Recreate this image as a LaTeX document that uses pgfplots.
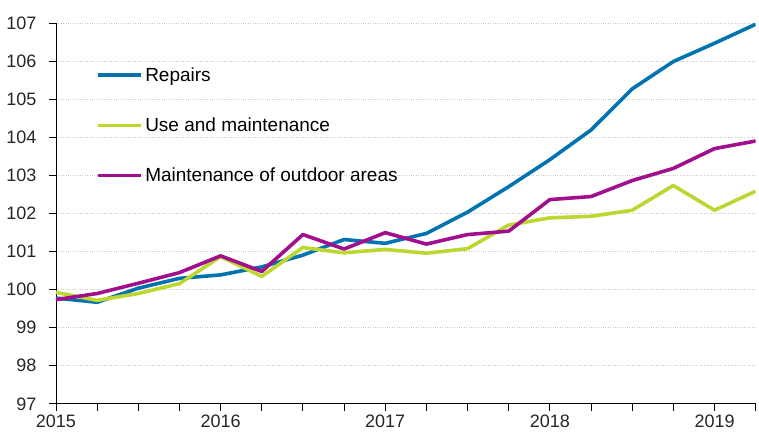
\documentclass[border=0pt]{standalone}
\usepackage{pgfplots}
\pgfplotsset{compat=1.18}
\usepackage{fontspec}
\setmainfont{Liberation Sans}
\definecolor{cblue}{RGB}{0,115,176}
\definecolor{cgreen}{RGB}{190,214,48}
\definecolor{cmag}{RGB}{160,16,140}
\definecolor{gridc}{RGB}{200,200,200}
\begin{document}
\begin{tikzpicture}
\begin{axis}[
  scale only axis,
  width=700pt, height=380.5pt,
  xmin=0, xmax=17, ymin=97, ymax=107,
  axis x line*=bottom, axis y line*=left,
  axis line style={black, line width=0.9pt},
  xtick={0,...,17},
  xticklabels={2015,,,,2016,,,,2017,,,,2018,,,,2019,},
  ytick={97,...,107},
  tick align=outside,
  major tick length=7pt,
  tick style={black, line width=0.9pt},
  ymajorgrids,
  grid style={gridc, dotted, line width=0.8pt},
  tick label style={font=\fontsize{18}{20}\selectfont, text=black!85},
  /pgf/number format/assume math mode=true,
  yticklabel style={xshift=-9pt},
  xticklabel style={yshift=-1pt},
  legend style={draw=none, fill=none, at={(0.0565,0.89)}, anchor=north west,
    font=\fontsize{19}{21}\selectfont, row sep=31pt, inner sep=0pt,
    cells={anchor=west}},
  legend image code/.code={\draw[#1] (0pt,0pt) -- (44pt,0pt);},
  every axis plot/.append style={line width=3.6pt, line join=round},
]
\addplot[cblue] coordinates {
(0,99.78)(1,99.67)(2,100.04)(3,100.30)(4,100.39)(5,100.60)(6,100.91)(7,101.32)(8,101.22)
(9,101.48)(10,102.04)(11,102.71)(12,103.42)(13,104.20)(14,105.28)(15,106.00)(16,106.48)(17,106.98)};
\addlegendentry{Repairs}
\addplot[cgreen] coordinates {
(0,99.93)(1,99.72)(2,99.90)(3,100.16)(4,100.87)(5,100.35)(6,101.11)(7,100.97)(8,101.06)
(9,100.96)(10,101.08)(11,101.70)(12,101.89)(13,101.93)(14,102.09)(15,102.74)(16,102.09)(17,102.59)};
\addlegendentry{Use and maintenance}
\addplot[cmag] coordinates {
(0,99.74)(1,99.90)(2,100.17)(3,100.45)(4,100.89)(5,100.48)(6,101.45)(7,101.07)(8,101.50)
(9,101.20)(10,101.45)(11,101.54)(12,102.37)(13,102.45)(14,102.87)(15,103.19)(16,103.71)(17,103.91)};
\addlegendentry{Maintenance of outdoor areas}
\end{axis}
\path (current axis.south west) ++(-56pt,-33pt) coordinate (bl);
\path (current axis.north east) ++(3pt,23.5pt) coordinate (tr);
\path (bl) rectangle (tr);
\end{tikzpicture}
\end{document}
